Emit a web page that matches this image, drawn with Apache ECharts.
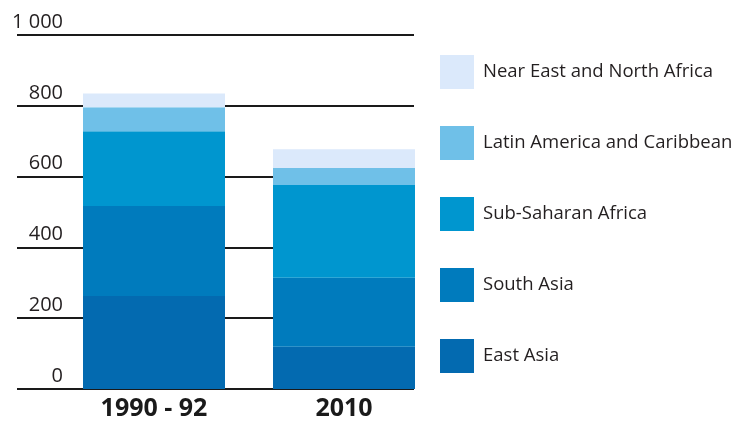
<!DOCTYPE html>
<html>
<head>
<meta charset="utf-8">
<script src="https://cdn.jsdelivr.net/npm/echarts@6/dist/echarts.min.js"></script>
<style>html,body{margin:0;padding:0;background:#fff}#c{width:734px;height:423px}</style>
</head>
<body>
<div id="c"></div>
<script>
const categories = ['1990 - 92', '2010'];
const yTicks = [0, 200, 400, 600, 800, 1000];
const eastAsia = [263, 119];
const southAsia = [254, 195];
const subSaharan = [211, 262];
const latinAmerica = [68, 48];
const nearEast = [39, 53];
const seriesNames = ['East Asia', 'South Asia', 'Sub-Saharan Africa', 'Latin America and Caribbean', 'Near East and North Africa'];
const seriesData = [eastAsia, southAsia, subSaharan, latinAmerica, nearEast];
const colors = ['#036ab0', '#007bbd', '#0096cf', '#6fc0e8', '#dbe9fb'];

const FONT = '"Open Sans", "Noto Sans", sans-serif';
const chart = echarts.init(document.getElementById('c'));
const option = {
  animation: false,
  grid: [
    { left: 59, right: 295, top: 35, bottom: 34 },
    { left: 17, right: 320, top: 35, bottom: 34 }
  ],
  xAxis: [
    { gridIndex: 0, type: 'category', data: categories,
      axisLine: { show: false }, axisTick: { show: false },
      axisLabel: { margin: 7, fontSize: 25, fontWeight: 'bold', color: '#1a1a1a', fontFamily: FONT } },
    { gridIndex: 1, type: 'value', show: false }
  ],
  yAxis: [
    { gridIndex: 0, type: 'value', min: 0, max: 1000, interval: 200, show: false, splitLine: { show: false } },
    { gridIndex: 1, type: 'value', min: 0, max: 1000, interval: 200,
      axisLine: { show: false }, axisTick: { show: false },
      splitLine: { show: true, lineStyle: { color: '#1a1a1a', width: 2 } },
      axisLabel: { margin: -46, align: 'right', verticalAlign: 'bottom', padding: [0, 0, 3, 0],
        fontSize: 20, color: '#231f20', fontFamily: FONT,
        formatter: v => yTicks.includes(v) ? (v >= 1000 ? String(v).replace(/(\d)(?=(\d{3})+$)/g, '$1 ') : String(v)) : '' } }
  ],
  legend: {
    orient: 'vertical', left: 440, top: 55, padding: 0,
    itemWidth: 34, itemHeight: 34, itemGap: 37, icon: 'rect',
    data: seriesNames.slice().reverse(),
    textStyle: { fontSize: 18.5, color: '#231f20', fontFamily: FONT, padding: [0, 0, 0, 4] }
  },
  series: seriesNames.map((n, i) => ({
    name: n, type: 'bar', stack: 'total', xAxisIndex: 0, yAxisIndex: 0,
    barWidth: 142, data: seriesData[i], z: 5,
    itemStyle: { color: colors[i] }
  }))
};
chart.setOption(option);
</script>
</body>
</html>
